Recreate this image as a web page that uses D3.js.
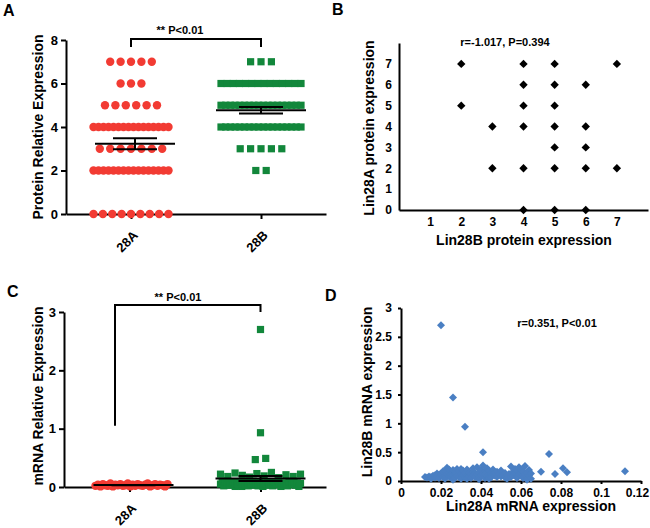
<!DOCTYPE html>
<html>
<head>
<meta charset="utf-8">
<script src="https://cdn.jsdelivr.net/npm/d3@7"></script>
<style>
  body { margin: 0; background: #fff; }
  text { font-family: "Liberation Sans", Arial, sans-serif; font-weight: bold; fill: #000; }
  .axis path, .axis line { stroke: #000; stroke-width: 2; }
  .axis text { font-size: 12px; font-weight: bold; font-family: "Liberation Sans", Arial, sans-serif; }
</style>
</head>
<body>
<svg id="chart" width="650" height="528"></svg>
<script>
// ---- data ----
const groups = ["28A", "28B"];

const protein28A = [7, 7, 7, 7, 7,
  6, 6, 6,
  5, 5, 5, 5, 5, 5,
  4, 4, 4, 4, 4, 4, 4, 4, 4, 4, 4, 4, 4, 4, 4, 4,
  3, 3, 3, 3, 3, 3, 3,
  2, 2, 2, 2, 2, 2, 2, 2, 2, 2, 2, 2, 2, 2, 2, 2,
  0, 0, 0, 0, 0, 0, 0, 0, 0];

const protein28B = [7, 7, 7,
  6, 6, 6, 6, 6, 6, 6, 6, 6, 6, 6, 6, 6, 6,
  5, 5, 5, 5, 5, 5, 5, 5, 5, 5, 5, 5, 5, 5, 5, 5, 5, 5,
  4, 4, 4, 4, 4, 4, 4, 4, 4, 4, 4, 4, 4, 4, 4, 4, 4, 4,
  3, 3, 3, 3, 3,
  2, 2];

const lin28bProtein = [2, 2, 3, 3, 4, 4, 4, 4, 4, 4, 5, 5, 5, 5, 5, 5, 5, 6, 6, 6, 6, 6, 7, 7];
const lin28aProtein = [7, 5, 4, 2, 7, 6, 5, 4, 2, 0, 7, 6, 5, 4, 3, 2, 0, 6, 4, 3, 2, 0, 7, 2];

const mrna28A = [0.02, 0.04, 0.01, 0.05, 0.03, 0.02, 0.06, 0.01, 0.04, 0.03,
  0.05, 0.02, 0.03, 0.06, 0.01, 0.04, 0.02, 0.05, 0.03, 0.02,
  0.04, 0.06, 0.01, 0.03, 0.05, 0.02, 0.04, 0.03, 0.01, 0.05];

const mrna28B = [2.70, 0.93, 0.47, 0.49,
  0.22, 0.18, 0.24, 0.20, 0.17, 0.23, 0.19, 0.25, 0.16, 0.21, 0.18, 0.22,
  0.05, 0.10, 0.02, 0.08, 0.04, 0.06, 0.03, 0.07, 0.09, 0.01,
  0.05, 0.03, 0.08, 0.01, 0.06, 0.04, 0.09, 0.02, 0.07, 0.05,
  0.10, 0.03, 0.06, 0.02, 0.08, 0.04, 0.01, 0.07, 0.05, 0.09,
  0.03, 0.06, 0.02, 0.08, 0.04, 0.10, 0.05, 0.01, 0.07, 0.03,
  0.06, 0.02, 0.09, 0.04, 0.05, 0.08, 0.03, 0.07, 0.01, 0.06];

// [Lin28A mRNA, Lin28B mRNA]
const mrnaPairs = [
  [0.012, 0.07], [0.013, 0.06], [0.014, 0.08], [0.015, 0.07], [0.015, 0.04], [0.016, 0.09],
  [0.017, 0.06], [0.017, 0.10], [0.018, 0.08], [0.018, 0.13], [0.019, 0.11], [0.019, 0.05],
  [0.020, 0.09], [0.020, 0.13], [0.021, 0.07], [0.021, 0.17], [0.022, 0.10], [0.022, 0.04],
  [0.022, 0.16], [0.023, 0.12], [0.023, 0.23], [0.024, 0.08], [0.024, 0.15], [0.024, 0.20],
  [0.025, 0.06], [0.025, 0.11], [0.026, 0.19], [0.026, 0.09], [0.026, 0.02], [0.027, 0.13],
  [0.027, 0.05], [0.027, 0.17], [0.028, 0.21], [0.028, 0.10], [0.029, 0.07], [0.029, 0.16],
  [0.030, 0.12], [0.030, 0.04], [0.030, 0.21], [0.031, 0.09], [0.031, 0.18], [0.032, 0.06],
  [0.032, 0.14], [0.033, 0.20], [0.033, 0.10], [0.033, 0.04], [0.034, 0.08], [0.034, 0.15],
  [0.035, 0.12], [0.035, 0.05], [0.036, 0.17], [0.036, 0.09], [0.036, 0.22], [0.037, 0.13],
  [0.037, 0.07], [0.038, 0.24], [0.038, 0.11], [0.039, 0.06], [0.039, 0.15], [0.039, 0.03],
  [0.040, 0.09], [0.040, 0.19], [0.041, 0.27], [0.041, 0.12], [0.042, 0.05], [0.042, 0.16],
  [0.042, 0.11], [0.043, 0.22], [0.043, 0.10], [0.044, 0.08], [0.044, 0.18], [0.044, 0.04],
  [0.045, 0.13], [0.045, 0.06], [0.046, 0.20], [0.046, 0.11], [0.047, 0.09], [0.047, 0.15],
  [0.048, 0.07], [0.048, 0.16], [0.049, 0.12], [0.050, 0.18], [0.050, 0.08], [0.051, 0.10],
  [0.052, 0.06], [0.052, 0.14], [0.053, 0.09], [0.053, 0.04], [0.054, 0.12], [0.055, 0.25],
  [0.055, 0.07], [0.056, 0.16], [0.056, 0.10], [0.057, 0.13], [0.057, 0.21], [0.058, 0.08],
  [0.058, 0.18], [0.058, 0.05], [0.059, 0.24], [0.059, 0.11], [0.060, 0.14], [0.060, 0.20],
  [0.061, 0.09], [0.061, 0.17], [0.061, 0.05], [0.062, 0.26], [0.062, 0.12], [0.063, 0.07],
  [0.063, 0.15], [0.063, 0.02], [0.064, 0.19], [0.064, 0.10], [0.065, 0.04], [0.065, 0.13],
  [0.020, 2.70], [0.026, 1.45], [0.032, 0.94], [0.041, 0.50], [0.074, 0.47], [0.070, 0.16],
  [0.077, 0.12], [0.081, 0.22], [0.083, 0.15], [0.112, 0.17]
];

const proteinTicks = [0, 2, 4, 6, 8];
const mrnaTicks = [0, 1, 2, 3];
const scatterTicksB = [1, 2, 3, 4, 5, 6, 7];
const scatterTicksBy = [0, 1, 2, 3, 4, 5, 6, 7];
const mrnaTicksDx = [0, 0.02, 0.04, 0.06, 0.08, 0.1, 0.12];
const mrnaTicksDy = [0, 0.5, 1, 1.5, 2, 2.5, 3];

const red = "#f23b33";
const green = "#12873b";
const blue = "#4a7fc3";

const svg = d3.select("#chart");
svg.append("rect").attr("width", 650).attr("height", 528).attr("fill", "#fff");

// ---- helpers ----
// lay out points of one column in rows, spreading a crowded row horizontally
function swarm(values, yScale, cx, maxSpan, step, binPx) {
  const y0 = yScale(0);
  const rows = d3.groups(values, v => Math.floor((y0 - yScale(v)) / binPx));
  const out = [];
  rows.forEach(([, vals]) => {
    const n = vals.length;
    const s = n > 1 ? Math.min(step, maxSpan / (n - 1)) : 0;
    vals.forEach((v, j) => out.push({ v, x: cx + (j - (n - 1) / 2) * s }));
  });
  return out;
}

function meanSem(g, values, cx, yScale, halfMean, halfCap) {
  const m = d3.mean(values);
  const sem = d3.deviation(values) / Math.sqrt(values.length);
  g.append("line").attr("x1", cx - halfMean).attr("x2", cx + halfMean)
    .attr("y1", yScale(m)).attr("y2", yScale(m)).attr("stroke", "#000").attr("stroke-width", 2);
  [m - sem, m + sem].forEach(v => {
    g.append("line").attr("x1", cx - halfCap).attr("x2", cx + halfCap)
      .attr("y1", yScale(v)).attr("y2", yScale(v)).attr("stroke", "#000").attr("stroke-width", 2);
  });
  g.append("line").attr("x1", cx).attr("x2", cx)
    .attr("y1", yScale(m - sem)).attr("y2", yScale(m + sem)).attr("stroke", "#000").attr("stroke-width", 2);
}

const diamond = r => `M0,${-r}L${r},0L0,${r}L${-r},0Z`;

function panelLetter(txt, x, y) {
  svg.append("text").attr("x", x).attr("y", y).attr("font-size", 16).text(txt);
}

function yLabel(txt, x, y) {
  svg.append("text").attr("transform", `translate(${x},${y}) rotate(-90)`)
    .attr("text-anchor", "middle").attr("font-size", 14).text(txt);
}

function bracket(x1, x2, yTop, yLeft, yRight, label, labelX, labelY) {
  svg.append("path")
    .attr("d", `M${x1},${yLeft}V${yTop}H${x2}V${yRight}`)
    .attr("fill", "none").attr("stroke", "#000").attr("stroke-width", 2);
  svg.append("text").attr("x", labelX).attr("y", labelY)
    .attr("text-anchor", "middle").attr("font-size", 11).text(label);
}

function columnAxes(x, y, ticks, bottom) {
  svg.append("g").attr("class", "axis").attr("transform", `translate(${x.range()[0]},0)`)
    .call(d3.axisLeft(y).tickValues(ticks).tickSize(5).tickSizeOuter(0).tickPadding(3)
      .tickFormat(d3.format("d")))
    .selectAll("text").style("font-size", "13px");
  const xa = svg.append("g").attr("class", "axis").attr("transform", `translate(0,${bottom})`)
    .call(d3.axisBottom(x).tickSize(5).tickSizeOuter(0));
  xa.selectAll("text")
    .attr("x", 0).attr("y", 0)
    .attr("text-anchor", "end")
    .attr("dy", "0.35em")
    .style("font-size", "13px")
    .attr("transform", "translate(4,19) rotate(-45)");
}

// ---- A: protein dot plot ----
const xA = d3.scalePoint().domain(groups).range([66, 326]).padding(0.5);
const yA = d3.scaleLinear().domain([0, 8]).range([214, 40]);
columnAxes(xA, yA, proteinTicks, 214);

const gA = svg.append("g");
gA.selectAll(".dotA").data(swarm(protein28A, yA, xA("28A"), 75, 10.4, 8)).join("circle")
  .attr("cx", d => d.x).attr("cy", d => yA(d.v)).attr("r", 4.2).attr("fill", red);
gA.selectAll(".sqA").data(swarm(protein28B, yA, xA("28B"), 80, 10.4, 8)).join("rect")
  .attr("x", d => d.x - 3.6).attr("y", d => yA(d.v) - 3.6).attr("width", 7.2).attr("height", 7.2)
  .attr("fill", green);
meanSem(gA, protein28A, xA("28A") + 4, yA, 40, 22);
meanSem(gA, protein28B, xA("28B"), yA, 45, 22);
bracket(xA("28A"), xA("28B"), 39, 47, 47, "** P<0.01", 180, 34);
yLabel("Protein Relative Expression", 43, 127);
panelLetter("A", 3, 16);

// ---- B: protein scatter ----
const xB = d3.scaleLinear().domain([0, 8]).range([399, 648]);
const yB = d3.scaleLinear().domain([0, 8]).range([210, 43]);
svg.append("g").attr("class", "axis").attr("transform", "translate(399,0)")
  .call(d3.axisLeft(yB).tickValues(scatterTicksBy).tickSize(0).tickSizeOuter(0).tickPadding(7));
svg.append("g").attr("class", "axis").attr("transform", "translate(0,210)")
  .call(d3.axisBottom(xB).tickValues(scatterTicksB).tickSize(0).tickSizeOuter(0).tickPadding(7));
svg.append("g").selectAll("path").data(lin28bProtein).join("path")
  .attr("d", diamond(4.2))
  .attr("transform", (d, i) => `translate(${xB(d)},${yB(lin28aProtein[i])})`)
  .attr("fill", "#000");
svg.append("text").attr("x", 505).attr("y", 46).attr("text-anchor", "middle")
  .attr("font-size", 11).text("r=-1.017, P=0.394");
yLabel("Lin28A protein expression", 374, 128);
svg.append("text").attr("x", 524).attr("y", 245).attr("text-anchor", "middle")
  .attr("font-size", 14).text("Lin28B protein expression");
panelLetter("B", 332, 15);

// ---- C: mRNA dot plot ----
const xC = d3.scalePoint().domain(groups).range([64, 326]).padding(0.5);
const yC = d3.scaleLinear().domain([0, 3]).range([487, 312]);
columnAxes(xC, yC, mrnaTicks, 487);

const gC = svg.append("g");
gC.selectAll(".dotC").data(swarm(mrna28A, yC, xC("28A") + 2, 72, 10.4, 8)).join("circle")
  .attr("cx", d => d.x).attr("cy", d => yC(d.v)).attr("r", 4.2).attr("fill", red);
gC.selectAll(".sqC").data(swarm(mrna28B, yC, xC("28B"), 80, 10.4, 8)).join("rect")
  .attr("x", d => d.x - 3.6).attr("y", d => yC(d.v) - 3.6).attr("width", 7.2).attr("height", 7.2)
  .attr("fill", green);
meanSem(gC, mrna28A, xC("28A") + 4, yC, 40, 22);
meanSem(gC, mrna28B, xC("28B"), yC, 45, 22);
bracket(115, xC("28B"), 305, yC(1.05), 312, "** P<0.01", 178, 301);
yLabel("mRNA Relative Expression", 43, 396);
panelLetter("C", 7, 297);

// ---- D: mRNA scatter ----
const xD = d3.scaleLinear().domain([0, 0.12]).range([401, 641]);
const yD = d3.scaleLinear().domain([0, 3]).range([481, 308]);
svg.append("g").attr("class", "axis").attr("transform", "translate(401,0)")
  .call(d3.axisLeft(yD).tickValues(mrnaTicksDy).tickSize(3).tickSizeOuter(0).tickPadding(6)
    .tickFormat(d => String(d)));
const xaD = svg.append("g").attr("class", "axis").attr("transform", "translate(0,481)")
  .call(d3.axisBottom(xD).tickValues(mrnaTicksDx).tickSize(3).tickSizeOuter(0).tickPadding(4)
    .tickFormat(d => String(+d.toFixed(2))));
xaD.selectAll("text").filter(d => d === 0.12).attr("dx", -4);
svg.append("g").selectAll("path").data(mrnaPairs).join("path")
  .attr("d", diamond(4))
  .attr("transform", d => `translate(${xD(d[0])},${yD(d[1])})`)
  .attr("fill", blue);
svg.append("text").attr("x", 557).attr("y", 327).attr("text-anchor", "middle")
  .attr("font-size", 11).text("r=0.351, P<0.01");
yLabel("Lin28B mRNA expression", 372, 392);
svg.append("text").attr("x", 531).attr("y", 511).attr("text-anchor", "middle")
  .attr("font-size", 14).text("Lin28A mRNA expression");
panelLetter("D", 325, 301);
</script>
</body>
</html>
